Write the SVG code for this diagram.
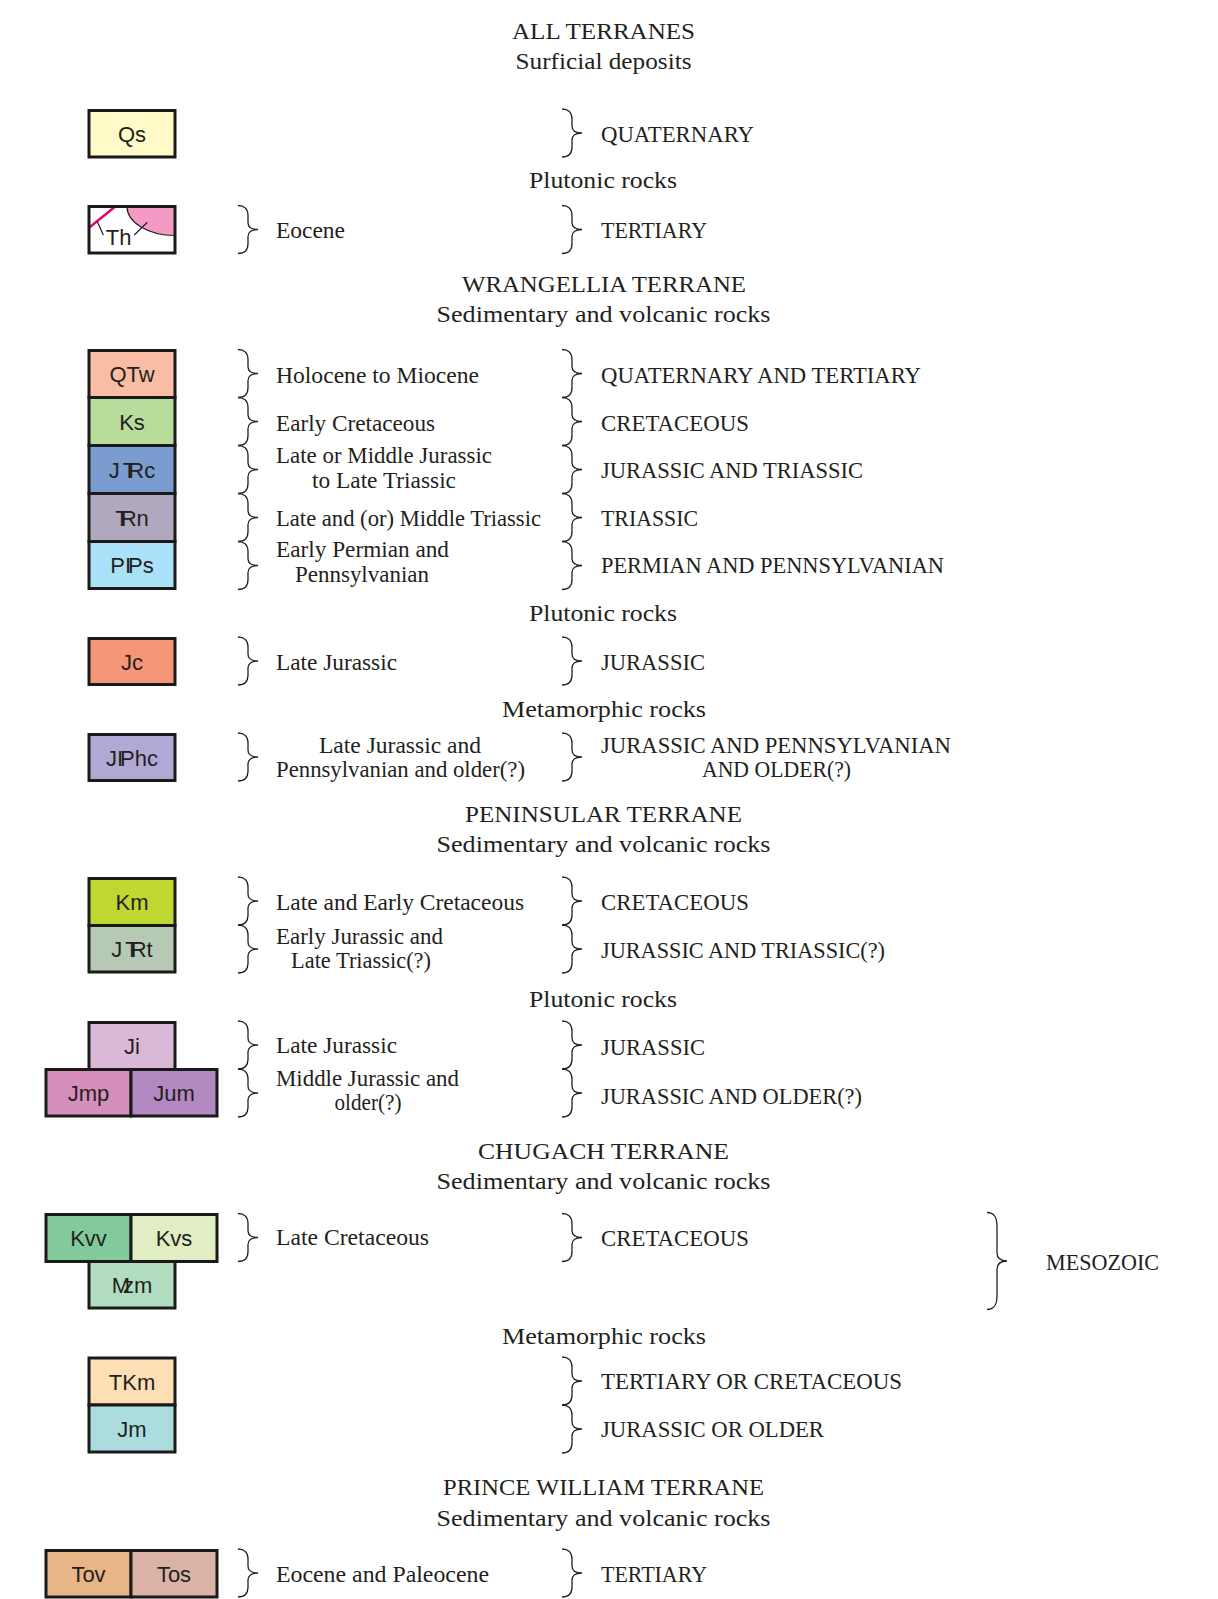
<svg xmlns="http://www.w3.org/2000/svg" xmlns:xlink="http://www.w3.org/1999/xlink" width="1218" height="1599" viewBox="0 0 1218 1599">
<style>
.bx{stroke:#1a1a1a;stroke-width:3}
.bl{font-family:"Liberation Sans",Arial,sans-serif;font-size:22px;fill:#231f20;text-anchor:middle}
.h{font-family:"Liberation Serif","Times New Roman",serif;font-size:24px;fill:#231f20;text-anchor:middle}
.t{font-family:"Liberation Serif","Times New Roman",serif;font-size:23px;fill:#231f20}
.m{text-anchor:middle}
.br{fill:none;stroke:#231f20;stroke-width:1.3}
.k8{letter-spacing:-8px}
.k3{letter-spacing:-3px}
.k7{letter-spacing:-7px}
.kp{letter-spacing:3px}
</style>
<defs>
<path id="brace" class="br" d="M0,0 C6,0 10,3 10,10 L10,17 C10,21 13,24 20,24 C13,24 10,27 10,31 L10,38 C10,45 6,48 0,48"/>
</defs>
<rect width="1218" height="1599" fill="#ffffff"/>

<g id="connectors">
<use xlink:href="#brace" x="562" y="109"/>
<use xlink:href="#brace" x="238" y="205.5"/>
<use xlink:href="#brace" x="562" y="205.5"/>
<use xlink:href="#brace" x="238" y="349.5"/>
<use xlink:href="#brace" x="238" y="397.5"/>
<use xlink:href="#brace" x="238" y="445.5"/>
<use xlink:href="#brace" x="238" y="493.5"/>
<use xlink:href="#brace" x="238" y="541.5"/>
<use xlink:href="#brace" x="562" y="349.5"/>
<use xlink:href="#brace" x="562" y="397.5"/>
<use xlink:href="#brace" x="562" y="445.5"/>
<use xlink:href="#brace" x="562" y="493.5"/>
<use xlink:href="#brace" x="562" y="541.5"/>
<use xlink:href="#brace" x="238" y="637"/>
<use xlink:href="#brace" x="562" y="637"/>
<use xlink:href="#brace" x="238" y="733"/>
<use xlink:href="#brace" x="562" y="733"/>
<use xlink:href="#brace" x="238" y="877"/>
<use xlink:href="#brace" x="238" y="925"/>
<use xlink:href="#brace" x="562" y="877"/>
<use xlink:href="#brace" x="562" y="925"/>
<use xlink:href="#brace" x="238" y="1021"/>
<use xlink:href="#brace" x="238" y="1069"/>
<use xlink:href="#brace" x="562" y="1021"/>
<use xlink:href="#brace" x="562" y="1069"/>
<use xlink:href="#brace" x="238" y="1213.5"/>
<use xlink:href="#brace" x="562" y="1213.5"/>
<path class="br" d="M987,1212.5 C994,1212.5 997,1216.5 997,1226.5 L997,1252.5 C997,1257.5 1000,1261 1007,1261 C1000,1261 997,1264.5 997,1269.5 L997,1295.5 C997,1305.5 994,1309.5 987,1309.5"/>
<use xlink:href="#brace" x="562" y="1357"/>
<use xlink:href="#brace" x="562" y="1405"/>
<use xlink:href="#brace" x="238" y="1549"/>
<use xlink:href="#brace" x="562" y="1549"/>
</g>

<g id="headings">
<text class="h" x="603.5" y="39.3" textLength="183" lengthAdjust="spacingAndGlyphs">ALL TERRANES</text>
<text class="h" x="603.5" y="69.3" textLength="176" lengthAdjust="spacingAndGlyphs">Surficial deposits</text>
<text class="h" x="603" y="187.7" textLength="148" lengthAdjust="spacingAndGlyphs">Plutonic rocks</text>
<text class="h" x="604" y="292.3" textLength="284" lengthAdjust="spacingAndGlyphs">WRANGELLIA TERRANE</text>
<text class="h" x="603.5" y="322" textLength="334" lengthAdjust="spacingAndGlyphs">Sedimentary and volcanic rocks</text>
<text class="h" x="603" y="621.3" textLength="148" lengthAdjust="spacingAndGlyphs">Plutonic rocks</text>
<text class="h" x="604" y="716.5" textLength="204" lengthAdjust="spacingAndGlyphs">Metamorphic rocks</text>
<text class="h" x="603.5" y="821.7" textLength="277" lengthAdjust="spacingAndGlyphs">PENINSULAR TERRANE</text>
<text class="h" x="603.5" y="851.6" textLength="334" lengthAdjust="spacingAndGlyphs">Sedimentary and volcanic rocks</text>
<text class="h" x="603" y="1007" textLength="148" lengthAdjust="spacingAndGlyphs">Plutonic rocks</text>
<text class="h" x="603.5" y="1159.4" textLength="251" lengthAdjust="spacingAndGlyphs">CHUGACH TERRANE</text>
<text class="h" x="603.5" y="1189" textLength="334" lengthAdjust="spacingAndGlyphs">Sedimentary and volcanic rocks</text>
<text class="h" x="604" y="1343.5" textLength="204" lengthAdjust="spacingAndGlyphs">Metamorphic rocks</text>
<text class="h" x="603.5" y="1494.7" textLength="321" lengthAdjust="spacingAndGlyphs">PRINCE WILLIAM TERRANE</text>
<text class="h" x="603.5" y="1526" textLength="334" lengthAdjust="spacingAndGlyphs">Sedimentary and volcanic rocks</text>
</g>

<g id="ages">
<text class="t" x="276" y="238.3" textLength="69" lengthAdjust="spacingAndGlyphs">Eocene</text>
<text class="t" x="276" y="383.3" textLength="203" lengthAdjust="spacingAndGlyphs">Holocene to Miocene</text>
<text class="t" x="276" y="430.7" textLength="159" lengthAdjust="spacingAndGlyphs">Early Cretaceous</text>
<text class="t" x="276" y="463.3" textLength="216" lengthAdjust="spacingAndGlyphs">Late or Middle Jurassic</text>
<text class="t m" x="384" y="488.3" textLength="144" lengthAdjust="spacingAndGlyphs">to Late Triassic</text>
<text class="t" x="276" y="525.7" textLength="265" lengthAdjust="spacingAndGlyphs">Late and (or) Middle Triassic</text>
<text class="t" x="276" y="556.7" textLength="173" lengthAdjust="spacingAndGlyphs">Early Permian and</text>
<text class="t m" x="362" y="581.7" textLength="134" lengthAdjust="spacingAndGlyphs">Pennsylvanian</text>
<text class="t" x="276" y="669.5" textLength="121" lengthAdjust="spacingAndGlyphs">Late Jurassic</text>
<text class="t m" x="400" y="753.3" textLength="162" lengthAdjust="spacingAndGlyphs">Late Jurassic and</text>
<text class="t m" x="400.5" y="777" textLength="249" lengthAdjust="spacingAndGlyphs">Pennsylvanian and older(?)</text>
<text class="t" x="276" y="909.5" textLength="248" lengthAdjust="spacingAndGlyphs">Late and Early Cretaceous</text>
<text class="t" x="276" y="943.5" textLength="167" lengthAdjust="spacingAndGlyphs">Early Jurassic and</text>
<text class="t m" x="361" y="968" textLength="140" lengthAdjust="spacingAndGlyphs">Late Triassic(?)</text>
<text class="t" x="276" y="1053.3" textLength="121" lengthAdjust="spacingAndGlyphs">Late Jurassic</text>
<text class="t" x="276" y="1086" textLength="183" lengthAdjust="spacingAndGlyphs">Middle Jurassic and</text>
<text class="t m" x="368" y="1110" textLength="67" lengthAdjust="spacingAndGlyphs">older(?)</text>
<text class="t" x="276" y="1245" textLength="153" lengthAdjust="spacingAndGlyphs">Late Cretaceous</text>
<text class="t" x="276" y="1581.5" textLength="213" lengthAdjust="spacingAndGlyphs">Eocene and Paleocene</text>
</g>

<g id="periods">
<text class="t" x="601" y="141.7" textLength="153" lengthAdjust="spacingAndGlyphs">QUATERNARY</text>
<text class="t" x="601" y="238" textLength="106" lengthAdjust="spacingAndGlyphs">TERTIARY</text>
<text class="t" x="601" y="383.3" textLength="320" lengthAdjust="spacingAndGlyphs">QUATERNARY AND TERTIARY</text>
<text class="t" x="601" y="430.7" textLength="148" lengthAdjust="spacingAndGlyphs">CRETACEOUS</text>
<text class="t" x="601" y="478.3" textLength="262" lengthAdjust="spacingAndGlyphs">JURASSIC AND TRIASSIC</text>
<text class="t" x="601" y="525.7" textLength="97" lengthAdjust="spacingAndGlyphs">TRIASSIC</text>
<text class="t" x="601" y="573.3" textLength="343" lengthAdjust="spacingAndGlyphs">PERMIAN AND PENNSYLVANIAN</text>
<text class="t" x="601" y="670" textLength="104" lengthAdjust="spacingAndGlyphs">JURASSIC</text>
<text class="t" x="601" y="753.3" textLength="350" lengthAdjust="spacingAndGlyphs">JURASSIC AND PENNSYLVANIAN</text>
<text class="t m" x="776.5" y="776.7" textLength="149" lengthAdjust="spacingAndGlyphs">AND OLDER(?)</text>
<text class="t" x="601" y="909.5" textLength="148" lengthAdjust="spacingAndGlyphs">CRETACEOUS</text>
<text class="t" x="601" y="958" textLength="284" lengthAdjust="spacingAndGlyphs">JURASSIC AND TRIASSIC(?)</text>
<text class="t" x="601" y="1055" textLength="104" lengthAdjust="spacingAndGlyphs">JURASSIC</text>
<text class="t" x="601" y="1103.5" textLength="261" lengthAdjust="spacingAndGlyphs">JURASSIC AND OLDER(?)</text>
<text class="t" x="601" y="1246" textLength="148" lengthAdjust="spacingAndGlyphs">CRETACEOUS</text>
<text class="t" x="1046" y="1270" textLength="113" lengthAdjust="spacingAndGlyphs">MESOZOIC</text>
<text class="t" x="601" y="1389" textLength="301" lengthAdjust="spacingAndGlyphs">TERTIARY OR CRETACEOUS</text>
<text class="t" x="601" y="1437" textLength="223" lengthAdjust="spacingAndGlyphs">JURASSIC OR OLDER</text>
<text class="t" x="601" y="1582" textLength="106" lengthAdjust="spacingAndGlyphs">TERTIARY</text>
</g>

<g id="Qs"><rect class="bx" x="89" y="110.5" width="86" height="46.5" fill="#fffac7"/><text class="bl" x="132" y="141.5">Qs</text></g>
<g id="Th">
<rect x="89" y="206.5" width="86" height="46.5" fill="#ffffff"/>
<path d="M127,206.5 A48,29 0 0 0 175,235.5 L175,206.5 Z" fill="#f39bc5" stroke="#231f20" stroke-width="1.2"/>
<line x1="89" y1="227.7" x2="115.3" y2="206.5" stroke="#e6007e" stroke-width="2.5"/>
<line x1="97.3" y1="221.5" x2="103.3" y2="235" stroke="#231f20" stroke-width="1.2"/>
<line x1="147.3" y1="222.3" x2="134.3" y2="235" stroke="#231f20" stroke-width="1.2"/>
<rect class="bx" x="89" y="206.5" width="86" height="46.5" fill="none"/>
<text class="bl" x="118.7" y="245">Th</text>
</g>
<g id="QTw"><rect class="bx" x="89" y="350.5" width="86" height="47" fill="#f9bda5"/><text class="bl" x="132" y="382">QTw</text></g>
<g id="Ks"><rect class="bx" x="89" y="397.5" width="86" height="48" fill="#b8dc9c"/><text class="bl" x="132" y="429.5">Ks</text></g>
<g id="JTRc"><rect class="bx" x="89" y="445.5" width="86" height="48" fill="#7b9ccf"/><text class="bl" x="132" y="477.5"><tspan class="kp">J</tspan><tspan class="k8">T</tspan>Rc</text></g>
<g id="TRn"><rect class="bx" x="89" y="493.5" width="86" height="48" fill="#b1a8bf"/><text class="bl" x="132" y="525.5"><tspan class="k8">T</tspan>Rn</text></g>
<g id="PIPs"><rect class="bx" x="89" y="541.5" width="86" height="47" fill="#aae0f8"/><text class="bl" x="132" y="573">P<tspan class="k3">I</tspan>Ps</text></g>
<g id="Jc"><rect class="bx" x="89" y="638.5" width="86" height="46" fill="#f59679"/><text class="bl" x="132" y="669.5">Jc</text></g>
<g id="JIPhc"><rect class="bx" x="89" y="734.5" width="86" height="46" fill="#b0a9d6"/><text class="bl" x="132" y="765.5">J<tspan class="k3">I</tspan>Phc</text></g>
<g id="Km"><rect class="bx" x="89" y="878.5" width="86" height="47" fill="#bfd730"/><text class="bl" x="132" y="909.5">Km</text></g>
<g id="JTRt"><rect class="bx" x="89" y="925.5" width="86" height="46.5" fill="#b5c9b5"/><text class="bl" x="132" y="957"><tspan class="kp">J</tspan><tspan class="k8">T</tspan>Rt</text></g>
<g id="Ji"><rect class="bx" x="89" y="1022.5" width="86" height="47" fill="#dab9d8"/><text class="bl" x="132" y="1053.5">Ji</text></g>
<g id="Jmp"><rect class="bx" x="46" y="1069.5" width="85" height="46.5" fill="#d68fbd"/><text class="bl" x="88.5" y="1100.5">Jmp</text></g>
<g id="Jum"><rect class="bx" x="131" y="1069.5" width="86" height="46.5" fill="#b289c0"/><text class="bl" x="174" y="1100.5">Jum</text></g>
<g id="Kvv"><rect class="bx" x="46" y="1214.5" width="85" height="47" fill="#82ca9c"/><text class="bl" x="88.5" y="1246">Kvv</text></g>
<g id="Kvs"><rect class="bx" x="131" y="1214.5" width="86" height="47" fill="#e1edc3"/><text class="bl" x="174" y="1246">Kvs</text></g>
<g id="Mzm"><rect class="bx" x="89" y="1261.5" width="86" height="46.5" fill="#b2dcbf"/><text class="bl" x="132" y="1292.5"><tspan class="k7">M</tspan>zm</text></g>
<g id="TKm"><rect class="bx" x="89" y="1358" width="86" height="47" fill="#fddeb5"/><text class="bl" x="132" y="1389.5">TKm</text></g>
<g id="Jm"><rect class="bx" x="89" y="1405" width="86" height="47" fill="#abdddf"/><text class="bl" x="132" y="1436.5">Jm</text></g>
<g id="Tov"><rect class="bx" x="46" y="1550.5" width="85" height="46.5" fill="#e8b586"/><text class="bl" x="88.5" y="1581.5">Tov</text></g>
<g id="Tos"><rect class="bx" x="131" y="1550.5" width="86" height="46.5" fill="#dab3a6"/><text class="bl" x="174" y="1581.5">Tos</text></g>
</svg>
